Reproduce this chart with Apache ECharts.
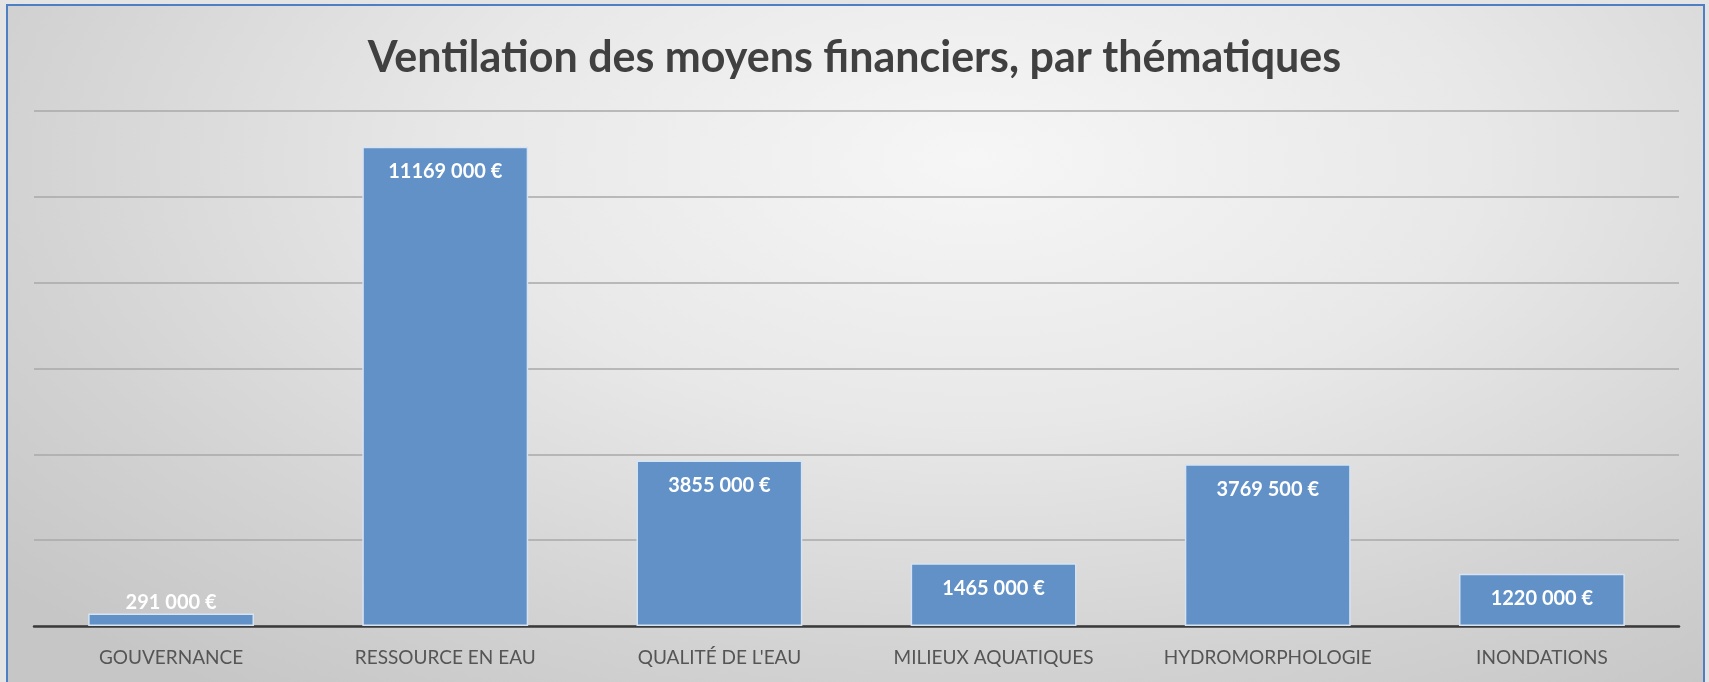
<!DOCTYPE html>
<html>
<head>
<meta charset="utf-8">
<script src="https://cdn.jsdelivr.net/npm/echarts@6/dist/echarts.min.js"></script>
<style>
  html, body { margin: 0; padding: 0; background: #e4e4e4; }
  #wrap { position: absolute; left: 0; top: 0; width: 1709px; height: 682px; overflow: hidden; }
  #frame { position: absolute; left: 6px; top: 4px; width: 1699px; height: 700px;
           border: 2px solid #4e7fc4; box-sizing: border-box;
           background: radial-gradient(ellipse 75% 95% at 57% 22%, #f6f6f6 0%, #e8e8e8 40%, #d3d3d3 75%, #c6c6c6 100%); }
  #chart { position: absolute; left: 0; top: 0; width: 1709px; height: 682px; }
</style>
</head>
<body>
<div id="wrap">
  <div id="frame"></div>
  <div id="chart"></div>
</div>
<script>
const titleText = "Ventilation des moyens financiers, par thématiques";
const categories = ["GOUVERNANCE", "RESSOURCE EN EAU", "QUALITÉ DE L'EAU", "MILIEUX AQUATIQUES", "HYDROMORPHOLOGIE", "INONDATIONS"];
const values = [291000, 11169000, 3855000, 1465000, 3769500, 1220000];
const yMin = 0;
const yMax = 12000000;
const yInterval = 2000000;

function fmtEuro(v) {
  const th = Math.floor(v / 1000);
  const rest = String(v % 1000).padStart(3, '0');
  return th + ' ' + rest + ' €';
}

const chart = echarts.init(document.getElementById('chart'), null, { renderer: 'canvas' });
chart.setOption({
  backgroundColor: 'transparent',
  animation: false,
  title: {
    text: titleText,
    left: 'center',
    top: 32,
    textStyle: { fontFamily: 'Lato', fontWeight: 'bold', fontSize: 43, color: '#404040' }
  },
  grid: { left: 34, right: 30, top: 111, bottom: 56, containLabel: false },
  xAxis: {
    type: 'category',
    data: categories,
    axisLine: { lineStyle: { color: '#3a3a3a', width: 2.5 } },
    axisTick: { show: false },
    axisLabel: { color: '#555555', fontFamily: 'Lato', fontSize: 19, margin: 22, interval: 0 }
  },
  yAxis: {
    type: 'value',
    min: yMin,
    max: yMax,
    interval: yInterval,
    axisLine: { show: false },
    axisTick: { show: false },
    axisLabel: { show: false },
    splitLine: { lineStyle: { color: '#a9a9a9', width: 1.5 } }
  },
  series: [{
    type: 'bar',
    data: values.map((v, i) => i === 0 ? {
      value: v,
      label: { position: 'top', distance: 1 }
    } : v),
    barWidth: '60.5%',
    itemStyle: { color: '#6191c7', borderColor: '#d6e3f2', borderWidth: 1.5 },
    label: {
      show: true,
      position: 'insideTop',
      distance: 15,
      color: '#ffffff',
      fontFamily: 'Lato',
      fontWeight: 'bold',
      fontSize: 20,
      formatter: p => fmtEuro(p.value)
    }
  }]
});
</script>
</body>
</html>
